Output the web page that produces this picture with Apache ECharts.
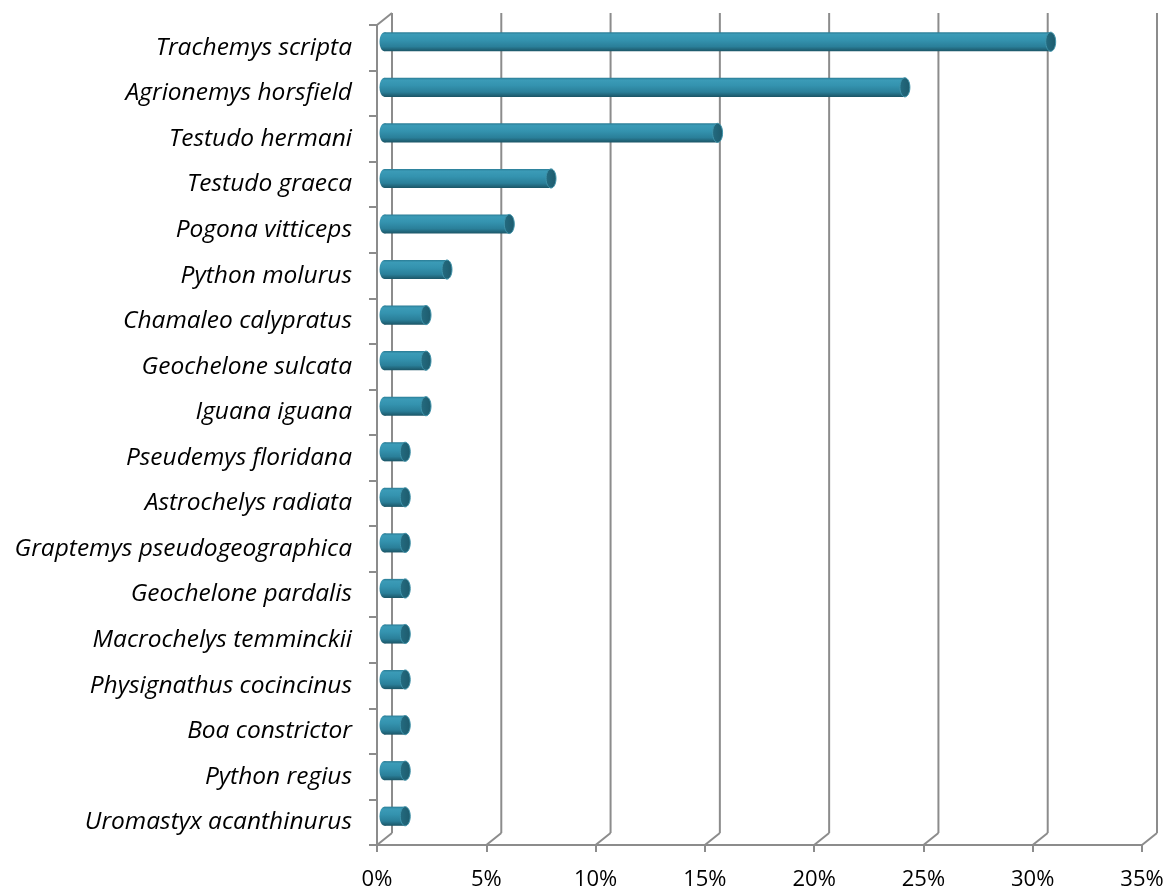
<!DOCTYPE html>
<html>
<head>
<meta charset="utf-8">
<script src="https://cdn.jsdelivr.net/npm/echarts@6/dist/echarts.min.js"></script>
<style>
  html, body { margin: 0; padding: 0; background: #ffffff; }
  #chart { width: 1167px; height: 891px; }
</style>
</head>
<body>
<div id="chart"></div>
<script>
// Species, top to bottom
const species = [
  'Trachemys scripta',
  'Agrionemys horsfield',
  'Testudo hermani',
  'Testudo graeca',
  'Pogona vitticeps',
  'Python molurus',
  'Chamaleo calypratus',
  'Geochelone sulcata',
  'Iguana iguana',
  'Pseudemys floridana',
  'Astrochelys radiata',
  'Graptemys pseudogeographica',
  'Geochelone pardalis',
  'Macrochelys temminckii',
  'Physignathus cocincinus',
  'Boa constrictor',
  'Python regius',
  'Uromastyx acanthinurus'
];

// Share of all animals, in percent
const shares = [
  30.48, 23.81, 15.24, 7.62, 5.71, 2.86, 1.90, 1.90, 1.90,
  0.95, 0.95, 0.95, 0.95, 0.95, 0.95, 0.95, 0.95, 0.95
];

// Value axis ticks (percent)
const xTicks = [0, 5, 10, 15, 20, 25, 30, 35];

// Depth of the pseudo-3D box, in pixels
const DEPTH_X = 15;
const DEPTH_Y = -12;
const LINE = '#8c8c8c';
const FONT = '"Open Sans", "DejaVu Sans", sans-serif';

const chart = echarts.init(document.getElementById('chart'), null, { renderer: 'canvas' });

// Back wall gridlines, floor diagonals and the top edge of the side wall
function wallItem(params, api) {
  const v = api.value(0);
  const cs = params.coordSys;
  const x = api.coord([v, 0])[0];
  const top = cs.y;
  const bottom = cs.y + cs.height;
  const style = { stroke: LINE, lineWidth: 2, fill: null };
  const children = [
    { type: 'line', shape: { x1: x + DEPTH_X, y1: top + DEPTH_Y, x2: x + DEPTH_X, y2: bottom + DEPTH_Y }, style },
    { type: 'line', shape: { x1: x, y1: bottom, x2: x + DEPTH_X, y2: bottom + DEPTH_Y }, style }
  ];
  if (v === 0) {
    children.push({ type: 'line', shape: { x1: x, y1: top, x2: x + DEPTH_X, y2: top + DEPTH_Y }, style });
  }
  return { type: 'group', children };
}

// Cylinder bars sitting halfway into the depth of the box
function barItem(params, api) {
  const val = api.value(0);
  const cat = api.value(1);
  const p0 = api.coord([0, cat]);
  const p1 = api.coord([val, cat]);
  const band = api.size([0, 1])[1];
  const h = band * 0.42;
  const rx = h * 0.26;
  const x0 = p0[0] + DEPTH_X / 2;
  const x1 = p1[0] + DEPTH_X / 2;
  const cy = p0[1] + DEPTH_Y / 2;
  const body = new echarts.graphic.LinearGradient(0, 0, 0, 1, [
    { offset: 0, color: '#2a7c95' },
    { offset: 0.12, color: '#3b9bb7' },
    { offset: 0.4, color: '#3493af' },
    { offset: 0.75, color: '#2a7f99' },
    { offset: 1, color: '#1b5566' }
  ]);
  const cap = new echarts.graphic.LinearGradient(0, 0, 1, 0, [
    { offset: 0, color: '#246c81' },
    { offset: 1, color: '#1d5a6c' }
  ]);
  return {
    type: 'group',
    children: [
      { type: 'ellipse', shape: { cx: x0, cy, rx, ry: h / 2 }, style: { fill: body } },
      { type: 'rect', shape: { x: x0, y: cy - h / 2, width: Math.max(0, x1 - x0), height: h }, style: { fill: body } },
      { type: 'ellipse', shape: { cx: x1, cy, rx, ry: h / 2 }, style: { fill: cap, stroke: '#3f93aa', lineWidth: 1 } }
    ]
  };
}

chart.setOption({
  animation: false,
  backgroundColor: '#ffffff',
  grid: { left: 377, right: 25, top: 25, bottom: 46, containLabel: false },
  xAxis: {
    type: 'value',
    min: 0,
    max: 35,
    interval: 5,
    axisLine: { show: true, lineStyle: { color: LINE, width: 2 } },
    axisTick: { show: true, length: 7, lineStyle: { color: LINE, width: 2 } },
    splitLine: { show: false },
    axisLabel: {
      formatter: '{value}%',
      color: '#000000',
      fontFamily: FONT,
      fontSize: 22,
      margin: 24
    }
  },
  yAxis: {
    type: 'category',
    data: species,
    inverse: true,
    axisLine: { show: true, lineStyle: { color: LINE, width: 2 } },
    axisTick: { show: true, length: 8, lineStyle: { color: LINE, width: 2 } },
    splitLine: { show: false },
    axisLabel: {
      color: '#000000',
      fontFamily: FONT,
      fontStyle: 'italic',
      fontSize: 24.5,
      margin: 25
    }
  },
  series: [
    {
      type: 'custom',
      name: 'walls',
      renderItem: wallItem,
      encode: { x: 0, y: 1 },
      data: xTicks.map(v => [v, 0]),
      z: 1,
      silent: true
    },
    {
      type: 'custom',
      name: 'share',
      renderItem: barItem,
      encode: { x: 0, y: 1 },
      data: species.map((s, i) => [shares[i], i]),
      z: 3
    }
  ]
});
</script>
</body>
</html>
